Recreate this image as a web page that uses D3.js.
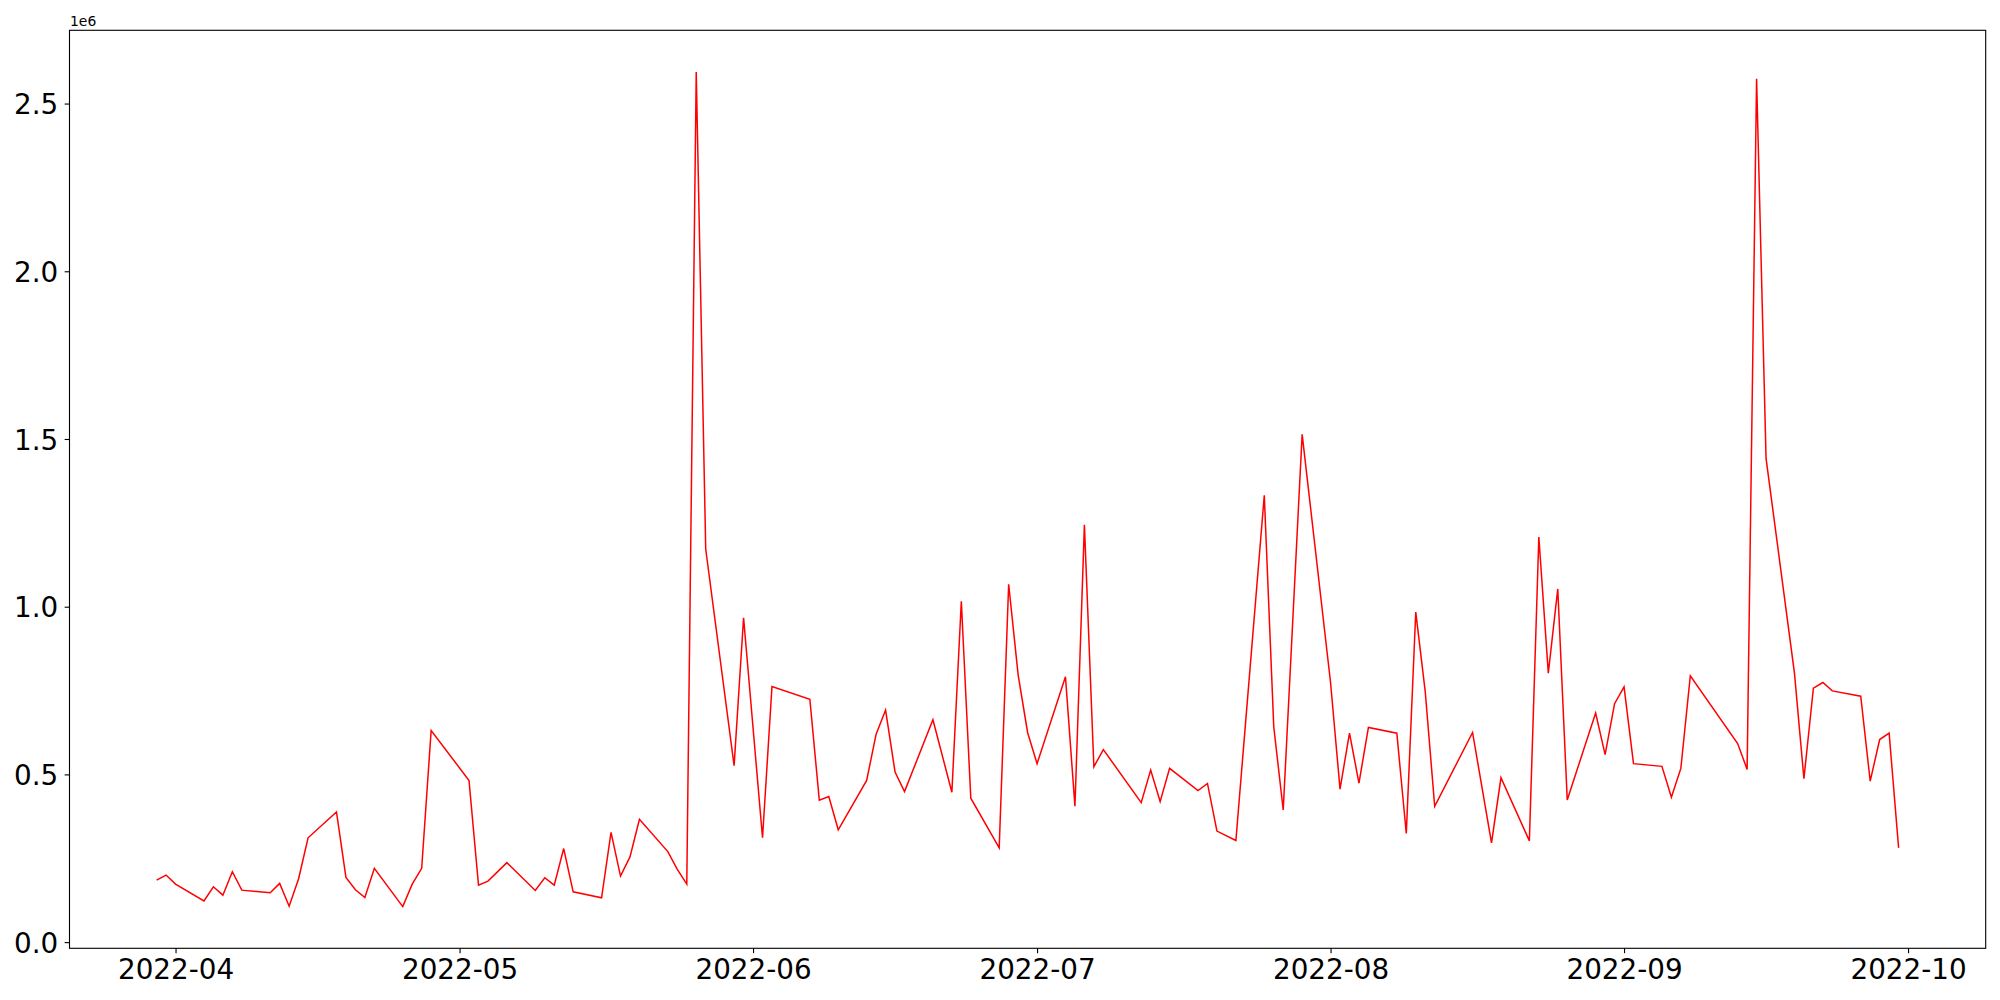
<!DOCTYPE html>
<html>
<head>
<meta charset="utf-8">
<script src="https://cdn.jsdelivr.net/npm/d3@7"></script>
<style>
  html, body { margin: 0; padding: 0; background: #ffffff; }
  svg { display: block; }
  text { font-family: "DejaVu Sans", sans-serif; fill: #000; }
</style>
</head>
<body>
<svg id="chart" width="2000" height="1000"></svg>
<script>
// ---- data ----
const dates = [
  "2022-03-30","2022-03-31","2022-04-01","2022-04-04","2022-04-05","2022-04-06","2022-04-07","2022-04-08",
  "2022-04-11","2022-04-12","2022-04-13","2022-04-14","2022-04-15","2022-04-18","2022-04-19","2022-04-20",
  "2022-04-21","2022-04-22","2022-04-25","2022-04-26","2022-04-27","2022-04-28","2022-05-02","2022-05-03",
  "2022-05-04","2022-05-06","2022-05-09","2022-05-10","2022-05-11","2022-05-12","2022-05-13","2022-05-16",
  "2022-05-17","2022-05-18","2022-05-19","2022-05-20","2022-05-23","2022-05-24","2022-05-25","2022-05-26",
  "2022-05-27","2022-05-30","2022-05-31","2022-06-02","2022-06-03","2022-06-07","2022-06-08","2022-06-09",
  "2022-06-10","2022-06-13","2022-06-14","2022-06-15","2022-06-16","2022-06-17","2022-06-20","2022-06-22",
  "2022-06-23","2022-06-24","2022-06-27","2022-06-28","2022-06-29","2022-06-30","2022-07-01","2022-07-04",
  "2022-07-05","2022-07-06","2022-07-07","2022-07-08","2022-07-12","2022-07-13","2022-07-14","2022-07-15",
  "2022-07-18","2022-07-19","2022-07-20","2022-07-22","2022-07-25","2022-07-26","2022-07-27","2022-07-29",
  "2022-08-01","2022-08-02","2022-08-03","2022-08-04","2022-08-05","2022-08-08","2022-08-09","2022-08-10",
  "2022-08-11","2022-08-12","2022-08-16","2022-08-18","2022-08-19","2022-08-22","2022-08-23","2022-08-24",
  "2022-08-25","2022-08-26","2022-08-29","2022-08-30","2022-08-31","2022-09-01","2022-09-02","2022-09-05",
  "2022-09-06","2022-09-07","2022-09-08","2022-09-13","2022-09-14","2022-09-15","2022-09-16","2022-09-19",
  "2022-09-20","2022-09-21","2022-09-22","2022-09-23","2022-09-26","2022-09-27","2022-09-28","2022-09-29",
  "2022-09-30"
];
const values = [
  185000, 200000, 173000, 123000, 165000, 140000, 210000, 155000,
  147000, 175000, 107000, 189000, 311000, 388000, 193000, 156000,
  133000, 220000, 106000, 173000, 220000, 631000, 482000, 170000,
  182000, 237000, 154000, 192000, 170000, 279000, 150000, 132000,
  327000, 197000, 254000, 366000, 270000, 217000, 173000, 2594000,
  1172000, 526000, 967000, 311000, 762000, 724000, 423000, 434000,
  335000, 482000, 620000, 692000, 507000, 449000, 663000, 447000,
  1016000, 429000, 281000, 1067000, 797000, 625000, 532000, 791000,
  405000, 1244000, 523000, 574000, 416000, 513000, 419000, 518000,
  452000, 473000, 331000, 303000, 1332000, 642000, 394000, 1514000,
  774000, 456000, 623000, 474000, 640000, 623000, 324000, 984000,
  747000, 405000, 625000, 296000, 490000, 302000, 1208000, 802000,
  1053000, 424000, 683000, 559000, 711000, 761000, 532000, 524000,
  432000, 518000, 794000, 592000, 515000, 2574000, 1442000, 802000,
  487000, 757000, 774000, 749000, 733000, 480000, 604000, 623000,
  281000
];
const xTickDates = ["2022-04-01","2022-05-01","2022-06-01","2022-07-01","2022-08-01","2022-09-01","2022-10-01"];
const xTickLabels = ["2022-04","2022-05","2022-06","2022-07","2022-08","2022-09","2022-10"];
const yTickValues = [0, 500000, 1000000, 1500000, 2000000, 2500000];
const yTickLabels = ["0.0","0.5","1.0","1.5","2.0","2.5"];
const offsetLabel = "1e6";

// ---- layout ----
const W = 2000, H = 1000;
const plot = { left: 69.5, right: 1985.7, top: 30.3, bottom: 948.3 };
const fontSize = 27.8;
const tickLen = 4.86, tickPad = 4.86;

const parse = d3.utcParse("%Y-%m-%d");
const data = dates.map((d, i) => ({ date: parse(d), value: values[i] }));

// matplotlib-style 5% margins
const [tMin, tMax] = d3.extent(data, d => +d.date);
const tPad = (tMax - tMin) * 0.05;
const [vMin, vMax] = d3.extent(data, d => d.value);
const vPad = (vMax - vMin) * 0.05;

const x = d3.scaleUtc()
  .domain([new Date(tMin - tPad), new Date(tMax + tPad)])
  .range([plot.left, plot.right]);
const y = d3.scaleLinear()
  .domain([vMin - vPad, vMax + vPad])
  .range([plot.bottom, plot.top]);

const svg = d3.select("#chart");
svg.append("rect").attr("width", W).attr("height", H).attr("fill", "#fff");

// line
const line = d3.line().x(d => x(d.date)).y(d => y(d.value));
svg.append("path")
  .datum(data)
  .attr("d", line)
  .attr("fill", "none")
  .attr("stroke", "#ff0000")
  .attr("stroke-width", 1.5)
  .attr("stroke-linejoin", "miter")
  .attr("stroke-linecap", "butt");

// x axis
const xTicks = xTickDates.map(parse);
const xAxis = d3.axisBottom(x)
  .tickValues(xTicks)
  .tickFormat((d, i) => xTickLabels[i])
  .tickSize(tickLen)
  .tickPadding(tickPad);
const gx = svg.append("g").attr("transform", `translate(0,${plot.bottom})`).call(xAxis);
gx.select(".domain").remove();
gx.selectAll(".tick line").attr("stroke", "#000").attr("stroke-width", 1.11);
gx.selectAll(".tick text")
  .attr("font-size", fontSize)
  .attr("font-family", "DejaVu Sans")
  .attr("fill", "#000")
  .attr("y", 31)
  .attr("dy", 0);

// y axis
const yAxis = d3.axisLeft(y)
  .tickValues(yTickValues)
  .tickFormat((d, i) => yTickLabels[i])
  .tickSize(tickLen)
  .tickPadding(tickPad);
const gy = svg.append("g").attr("transform", `translate(${plot.left},0)`).call(yAxis);
gy.select(".domain").remove();
gy.selectAll(".tick line").attr("stroke", "#000").attr("stroke-width", 1.11);
gy.selectAll(".tick text")
  .attr("font-size", fontSize)
  .attr("font-family", "DejaVu Sans")
  .attr("fill", "#000")
  .attr("x", -(tickLen + tickPad + 1.5))
  .attr("dy", 10.1);

// frame (spines)
svg.append("rect")
  .attr("x", plot.left).attr("y", plot.top)
  .attr("width", plot.right - plot.left)
  .attr("height", plot.bottom - plot.top)
  .attr("fill", "none")
  .attr("stroke", "#000")
  .attr("stroke-width", 1.11);

// offset text
svg.append("text")
  .attr("x", plot.left + 0.5)
  .attr("y", 26)
  .attr("font-size", 13.9)
  .attr("font-family", "DejaVu Sans")
  .text(offsetLabel);
</script>
</body>
</html>
